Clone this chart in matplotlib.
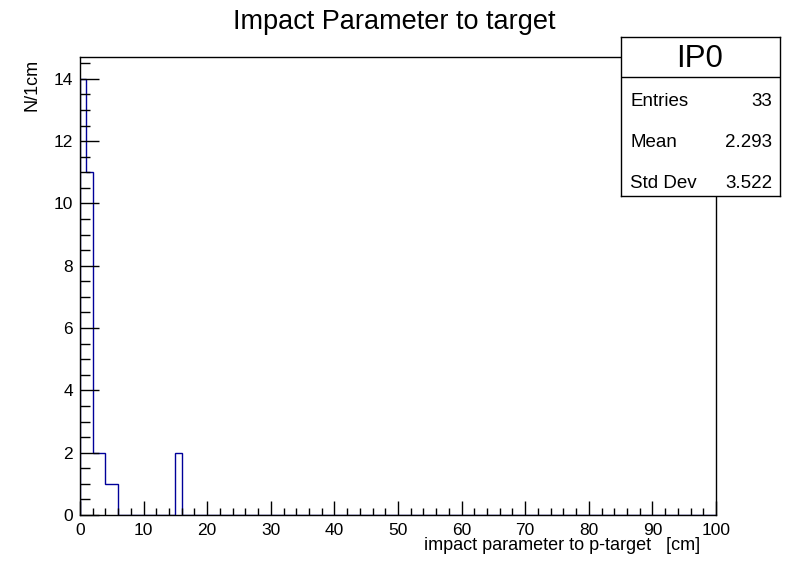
import matplotlib
matplotlib.use("Agg")
import matplotlib.pyplot as plt
from matplotlib.ticker import MultipleLocator
import numpy as np

plt.rcParams['font.family'] = ['Liberation Sans', 'DejaVu Sans']

# ---- data ----
title = "Impact Parameter to target"
x_label = "impact parameter to p-target   [cm]"
y_label = "N/1cm"
hist_name = "IP0"
bin_edges = list(range(0, 101))
bin_counts = [14, 11, 2, 2, 1, 1, 0, 0, 0, 0,
              0, 0, 0, 0, 0, 2, 0, 0, 0, 0,
              0, 0, 0, 0, 0, 0, 0, 0, 0, 0,
              0, 0, 0, 0, 0, 0, 0, 0, 0, 0,
              0, 0, 0, 0, 0, 0, 0, 0, 0, 0,
              0, 0, 0, 0, 0, 0, 0, 0, 0, 0,
              0, 0, 0, 0, 0, 0, 0, 0, 0, 0,
              0, 0, 0, 0, 0, 0, 0, 0, 0, 0,
              0, 0, 0, 0, 0, 0, 0, 0, 0, 0,
              0, 0, 0, 0, 0, 0, 0, 0, 0, 0]
stat_names = ["Entries", "Mean", "Std Dev"]
stat_values = ["33", "2.293", "3.522"]
x_range = (0, 100)
y_max = 14.7

W, H = 796, 572
fig = plt.figure(figsize=(W / 100, H / 100), dpi=100)

def fx(px):
    return px / W

def fy(py):
    return 1 - py / H

ax = fig.add_axes([fx(80), fy(515), fx(716) - fx(80), fy(57) - fy(515)])
ax.stairs(bin_counts, bin_edges, color='#000099', linewidth=1.0, baseline=0)
ax.set_xlim(*x_range)
ax.set_ylim(0, y_max)

for s in ax.spines.values():
    s.set_linewidth(1.0)
    s.set_color('black')

ax.xaxis.set_major_locator(MultipleLocator(10))
ax.xaxis.set_minor_locator(MultipleLocator(2))
ax.yaxis.set_major_locator(MultipleLocator(2))
ax.yaxis.set_minor_locator(MultipleLocator(0.5))
ax.tick_params(axis='x', which='major', direction='in', length=10, width=1, pad=6, labelsize=12.5)
ax.tick_params(axis='x', which='minor', direction='in', length=5, width=1)
ax.tick_params(axis='y', which='major', direction='in', length=13.7, width=1, pad=5, labelsize=12.5)
ax.tick_params(axis='y', which='minor', direction='in', length=7.2, width=1)

fig.text(fx(394), fy(29), title, ha='center', va='baseline', fontsize=19.5)
fig.text(fx(700), fy(550), x_label, ha='right', va='baseline', fontsize=13)
fig.text(fx(32.5), fy(59), y_label, ha='center', va='top', rotation=90, fontsize=13)

# stats box
sb = fig.add_axes([fx(621), fy(196), fx(780) - fx(621), fy(37) - fy(196)])
sb.set_xlim(621, 780)
sb.set_ylim(196, 37)
sb.set_xticks([])
sb.set_yticks([])
sb.set_facecolor('white')
for s in sb.spines.values():
    s.set_linewidth(1.0)
    s.set_color('black')
sb.plot([621, 780], [77, 77], color='black', linewidth=1.0)
sb.text(699.5, 67, hist_name, ha='center', va='baseline', fontsize=22.5)
rows_y = [105.7, 146.7, 188.4]
for name, val, yy in zip(stat_names, stat_values, rows_y):
    sb.text(630, yy, name, ha='left', va='baseline', fontsize=13.5)
    sb.text(772, yy, val, ha='right', va='baseline', fontsize=13.5)

fig.savefig("out.png", dpi=100)
